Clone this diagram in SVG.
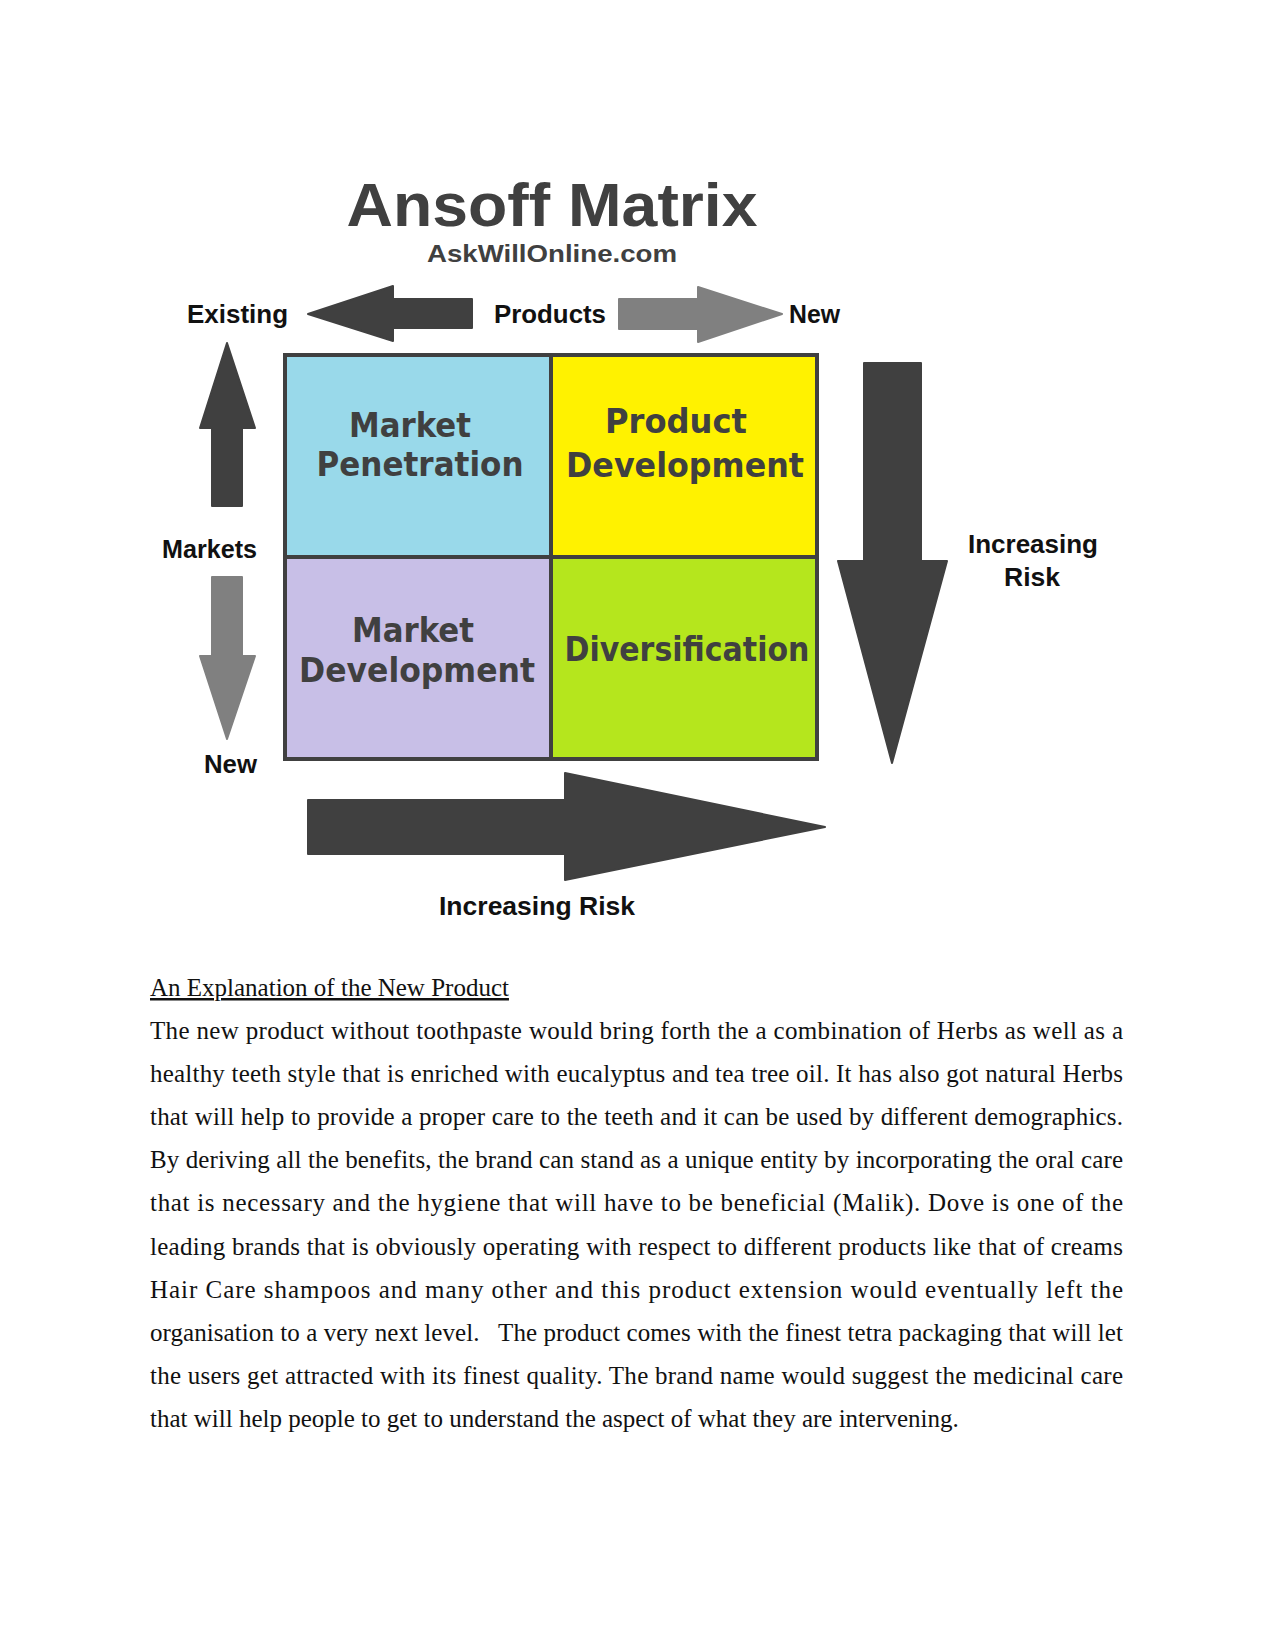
<svg xmlns="http://www.w3.org/2000/svg" width="1275" height="1650" viewBox="0 0 1275 1650">
<style>
.title{font-family:"Liberation Sans",Arial,sans-serif;font-weight:bold;fill:#404040}
.lbl{font-family:"Liberation Sans",Arial,sans-serif;font-weight:bold;font-size:26px;fill:#111}
.cell{stroke:#404040;stroke-width:4}
.ct{font-family:"DejaVu Sans",Verdana,sans-serif;font-weight:bold;font-size:33px;fill:#404040;text-anchor:middle}
.dark{fill:#404040;stroke:#404040;stroke-width:2;stroke-linejoin:round}
.gray{fill:#808080;stroke:#808080;stroke-width:2;stroke-linejoin:round}
.body{font-family:"Liberation Serif","Times New Roman",serif;font-size:25px;fill:#111}
</style>
<rect width="1275" height="1650" fill="#fff"/>
<g id="title">
<text class="title" x="552" y="226" font-size="62" text-anchor="middle" textLength="411" lengthAdjust="spacingAndGlyphs">Ansoff Matrix</text>
<text class="title" x="552" y="262" font-size="24" text-anchor="middle" textLength="250" lengthAdjust="spacingAndGlyphs">AskWillOnline.com</text>
</g>
<g id="connectors">
<path class="dark" d="M308,314 L393,286 L393,299 L472,299 L472,328 L393,328 L393,341 Z"/>
<path class="gray" d="M619,299 L698,299 L698,287 L782,314 L698,342 L698,329 L619,329 Z"/>
<path class="dark" d="M227,343 L255,428 L242,428 L242,506 L212,506 L212,428 L200,428 Z"/>
<path class="gray" d="M212,577 L242,577 L242,656 L255,656 L227,739 L200,656 L212,656 Z"/>
<path class="dark" d="M864,363 L921,363 L921,561 L947,561 L892,763 L838,561 L864,561 Z"/>
<path class="dark" d="M308,800 L565,800 L565,773 L825,827 L565,880 L565,854 L308,854 Z"/>
</g>
<g id="labels">
<text class="lbl" x="187" y="323" textLength="101" lengthAdjust="spacingAndGlyphs">Existing</text>
<text class="lbl" x="494" y="323" textLength="112" lengthAdjust="spacingAndGlyphs">Products</text>
<text class="lbl" x="789" y="323" textLength="51" lengthAdjust="spacingAndGlyphs">New</text>
<text class="lbl" x="162" y="558" textLength="95" lengthAdjust="spacingAndGlyphs">Markets</text>
<text class="lbl" x="204" y="773" textLength="53" lengthAdjust="spacingAndGlyphs">New</text>
<text class="lbl" x="1033" y="553" text-anchor="middle" textLength="130" lengthAdjust="spacingAndGlyphs">Increasing</text>
<text class="lbl" x="1032" y="586" text-anchor="middle" textLength="56" lengthAdjust="spacingAndGlyphs">Risk</text>
<text class="lbl" x="439" y="915" textLength="196" lengthAdjust="spacingAndGlyphs">Increasing Risk</text>
</g>
<g id="market-penetration">
<rect class="cell" x="285" y="355" width="266" height="202" fill="#99d9ea"/>
<text class="ct" x="410" y="437" textLength="122" lengthAdjust="spacingAndGlyphs">Market</text>
<text class="ct" x="420" y="476" textLength="207" lengthAdjust="spacingAndGlyphs">Penetration</text>
</g>
<g id="product-development">
<rect class="cell" x="551" y="355" width="266" height="202" fill="#fff200"/>
<text class="ct" x="676" y="433" textLength="142" lengthAdjust="spacingAndGlyphs">Product</text>
<text class="ct" x="685" y="477" textLength="238" lengthAdjust="spacingAndGlyphs">Development</text>
</g>
<g id="market-development">
<rect class="cell" x="285" y="557" width="266" height="202" fill="#c8bfe7"/>
<text class="ct" x="413" y="642" textLength="122" lengthAdjust="spacingAndGlyphs">Market</text>
<text class="ct" x="417" y="682" textLength="236" lengthAdjust="spacingAndGlyphs">Development</text>
</g>
<g id="diversification">
<rect class="cell" x="551" y="557" width="266" height="202" fill="#b5e61d"/>
<text class="ct" x="687" y="661" textLength="245" lengthAdjust="spacingAndGlyphs">Diversification</text>
</g>
<g id="body-text">
<text class="body" x="150" y="996" text-decoration="underline">An Explanation of the New Product</text>
<text class="body" x="150" y="1039" textLength="973" lengthAdjust="spacing">The new product without toothpaste would bring forth the a combination of Herbs as well as a</text>
<text class="body" x="150" y="1082" textLength="973" lengthAdjust="spacing">healthy teeth style that is enriched with eucalyptus and tea tree oil. It has also got natural Herbs</text>
<text class="body" x="150" y="1125" textLength="973" lengthAdjust="spacing">that will help to provide a proper care to the teeth and it can be used by different demographics.</text>
<text class="body" x="150" y="1168" textLength="973" lengthAdjust="spacing">By deriving all the benefits, the brand can stand as a unique entity by incorporating the oral care</text>
<text class="body" x="150" y="1211" textLength="973" lengthAdjust="spacing">that is necessary and the hygiene that will have to be beneficial (Malik). Dove is one of the</text>
<text class="body" x="150" y="1255" textLength="973" lengthAdjust="spacing">leading brands that is obviously operating with respect to different products like that of creams</text>
<text class="body" x="150" y="1298" textLength="973" lengthAdjust="spacing">Hair Care shampoos and many other and this product extension would eventually left the</text>
<text class="body" x="150" y="1341" textLength="973" lengthAdjust="spacing" style="white-space:pre">organisation to a very next level.   The product comes with the finest tetra packaging that will let</text>
<text class="body" x="150" y="1384" textLength="973" lengthAdjust="spacing">the users get attracted with its finest quality. The brand name would suggest the medicinal care</text>
<text class="body" x="150" y="1427">that will help people to get to understand the aspect of what they are intervening.</text>
</g>
</svg>
